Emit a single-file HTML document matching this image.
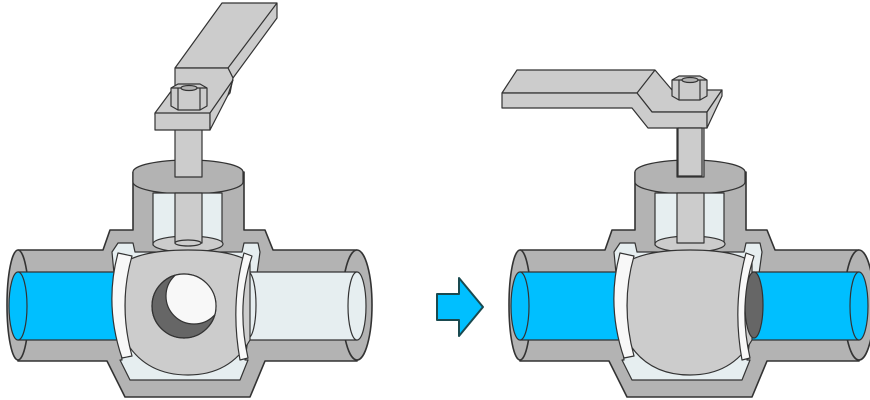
<!DOCTYPE html>
<html><head><style>html,body{margin:0;padding:0;background:#fff}svg{display:block}</style></head>
<body>
<svg width="870" height="400" viewBox="0 0 870 400" xmlns="http://www.w3.org/2000/svg" stroke="#333" stroke-width="1.2" stroke-linejoin="round">
<defs>
<g id="body">
  <path d="M18 250 L103 250 L110 230 L133 230 L133 172 L244 172 L244 230 L265 230 L273 250 L357 250 L357 361 L265 361 L250 397 L125 397 L107 361 L18 361 Z" fill="#b3b3b3" stroke-width="1.6"/>
  <ellipse cx="18" cy="305" rx="11" ry="55" fill="#b3b3b3" stroke-width="1.6"/>
  <ellipse cx="357" cy="305" rx="15" ry="55" fill="#b3b3b3" stroke-width="1.6"/>
  <ellipse cx="188" cy="172" rx="55" ry="12" fill="#b3b3b3"/>
  <path d="M133 172 L133 182 A55 12 0 0 0 243 182 L243 172" fill="#b3b3b3"/>
  <rect x="153" y="193" width="69" height="52" fill="#e6eef0"/>
  <ellipse cx="188" cy="244" rx="35" ry="8" fill="#cccccc"/>
  <path d="M118 243 L133 243 L135 252 L242 252 L244 243 L258 243 L260 252 L245 360 L248 360 L240 380 L130 380 L120 360 L122 360 L112 252 Z" fill="#e6eef0"/>
</g>
<clipPath id="hole"><circle cx="184" cy="306" r="32"/></clipPath>
</defs>

<!-- LEFT VALVE -->
<use href="#body"/>
<rect x="175" y="125" width="27" height="52" fill="#cccccc"/>
<rect x="175" y="193" width="27" height="50" fill="#cccccc"/>
<ellipse cx="188" cy="243" rx="13" ry="3" fill="#cccccc"/>
<rect x="18" y="272" width="100" height="68" fill="#00bfff" stroke="none"/>
<line x1="18" y1="272" x2="118" y2="272"/><line x1="18" y1="340" x2="118" y2="340"/>
<ellipse cx="18" cy="306" rx="9" ry="34" fill="#00bfff"/>
<rect x="245" y="272" width="112" height="68" fill="#e6eef0" stroke="none"/>
<line x1="245" y1="272" x2="357" y2="272"/><line x1="245" y1="340" x2="357" y2="340"/>
<ellipse cx="357" cy="306" rx="9" ry="34" fill="#e6eef0"/>
<ellipse cx="248" cy="305" rx="8" ry="33" fill="#e6eef0"/>
<path d="M125 262 Q145 250 188 250 Q232 250 250 262 L250 340 Q230 375 188 375 Q145 375 125 340 Z" fill="#cccccc"/>
<path d="M118 253 Q104 305 122 358 L132 356 Q118 305 132 256 Z" fill="#f8f8f8"/>
<path d="M244 253 Q230 305 240 360 L248 358 Q236 305 252 256 Z" fill="#f8f8f8"/>
<circle cx="184" cy="306" r="32" fill="#666"/>
<circle cx="194" cy="296" r="28" fill="#f8f8f8" clip-path="url(#hole)"/>
<circle cx="184" cy="306" r="32" fill="none"/>

<!-- left handle -->
<polygon points="222,3 277,3 277,18 233,78 228,68 175,68" fill="#cccccc"/>
<polyline points="228,68 277,3" fill="none"/>
<polygon points="175,68 228,68 233,78 230,93 210,115 155,115 155,113 172,90 175,88" fill="#cccccc"/>
<polygon points="155,113 210,113 210,130 155,130" fill="#cccccc"/>
<polygon points="210,113 233,80 228,95 210,130" fill="#cccccc"/>
<polygon points="171,88 178,84 200,84 207,88 207,106 200,110 178,110 171,106" fill="#cccccc"/>
<line x1="178" y1="88" x2="178" y2="110"/><line x1="200" y1="88" x2="200" y2="110"/>
<line x1="171" y1="88" x2="207" y2="88"/>
<ellipse cx="189" cy="88" rx="8" ry="2.5" fill="#b3b3b3"/>

<!-- ARROW -->
<polygon points="437,294 459,294 459,278 483,307 459,336 459,320 437,320" fill="#00bfff" stroke="#1a4a50" stroke-width="2"/>

<!-- RIGHT VALVE -->
<g transform="translate(502,0)">
<use href="#body"/>
<rect x="175" y="125" width="27" height="52" fill="#cccccc"/>
<rect x="175" y="193" width="27" height="50" fill="#cccccc"/>
<rect x="18" y="272" width="100" height="68" fill="#00bfff" stroke="none"/>
<line x1="18" y1="272" x2="118" y2="272"/><line x1="18" y1="340" x2="118" y2="340"/>
<ellipse cx="18" cy="306" rx="9" ry="34" fill="#00bfff"/>
<rect x="245" y="272" width="112" height="68" fill="#00bfff" stroke="none"/>
<line x1="245" y1="272" x2="357" y2="272"/><line x1="245" y1="340" x2="357" y2="340"/>
<ellipse cx="357" cy="306" rx="9" ry="34" fill="#00bfff"/>
<path d="M125 262 Q145 250 188 250 Q232 250 250 262 L250 340 Q230 375 188 375 Q145 375 125 340 Z" fill="#cccccc"/>
<ellipse cx="252" cy="305" rx="9" ry="33" fill="#666"/>
<path d="M118 253 Q104 305 122 358 L132 356 Q118 305 132 256 Z" fill="#f8f8f8"/>
<path d="M244 253 Q230 305 240 360 L248 358 Q236 305 252 256 Z" fill="#f8f8f8"/>
</g>

<!-- right handle -->
<polygon points="517,70 655,70 672,90 722,90 707,112 652,112 637,93 502,93" fill="#cccccc"/>
<polygon points="502,93 637,93 652,112 707,112 707,128 648,128 632,108 502,108" fill="#cccccc"/>
<polygon points="722,90 722,96 707,128 707,112" fill="#cccccc"/>
<line x1="637" y1="93" x2="655" y2="70"/>
<polygon points="672,80 679,76 700,76 707,80 707,96 700,100 679,100 672,96" fill="#cccccc"/>
<line x1="679" y1="80" x2="679" y2="100"/><line x1="700" y1="80" x2="700" y2="100"/>
<line x1="672" y1="80" x2="707" y2="80"/>
<ellipse cx="690" cy="80" rx="8" ry="2.5" fill="#b3b3b3"/>
<rect x="678" y="128" width="24" height="48" fill="#cccccc"/>
</svg>
</body></html>
